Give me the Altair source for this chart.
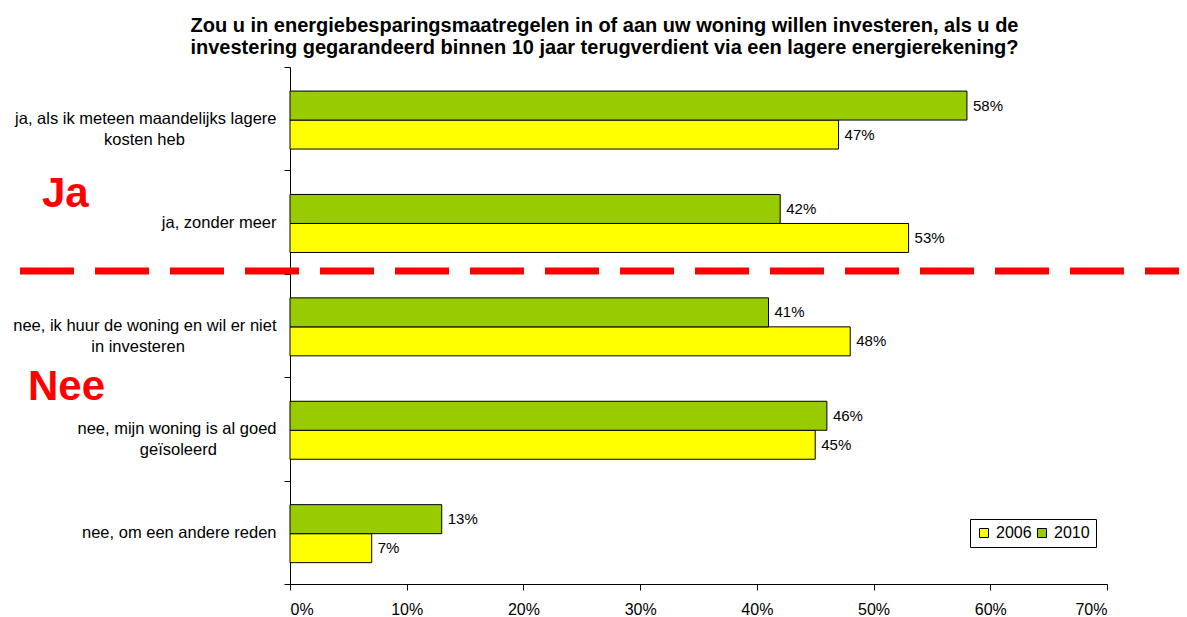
import altair as alt
import pandas as pd

FONT = "Liberation Sans"

categories = [
    "ja, als ik meteen maandelijks lagere kosten heb",
    "ja, zonder meer",
    "nee, ik huur de woning en wil er niet in investeren",
    "nee, mijn woning is al goed geïsoleerd",
    "nee, om een andere reden",
]
# how each category label is broken over lines
category_lines = [
    ["ja, als ik meteen maandelijks lagere", "kosten heb"],
    ["ja, zonder meer"],
    ["nee, ik huur de woning en wil er niet", "in investeren"],
    ["nee, mijn woning is al goed", "geïsoleerd"],
    ["nee, om een andere reden"],
]
years = ["2006", "2010"]
values_2006 = [47, 53, 48, 45, 7]
values_2010 = [58, 42, 41, 46, 13]
x_ticks = [0, 10, 20, 30, 40, 50, 60, 70]
title_lines = [
    "Zou u in energiebesparingsmaatregelen in of aan uw woning willen investeren, als u de",
    "investering gegarandeerd binnen 10 jaar terugverdient via een lagere energierekening?",
]
group_labels = ["Ja", "Nee"]

rows = []
for c, v6, v10 in zip(categories, values_2006, values_2010):
    rows.append({"category": c, "year": "2006", "value": v6})
    rows.append({"category": c, "year": "2010", "value": v10})
df = pd.DataFrame(rows)
df["label"] = df["value"].astype(str) + "%"

# label expression: second lines centred under the first one
# (right-padded with no-break spaces, closed by an invisible word joiner)
pads = [20, 0, 20, 13, 0]
NBSP = "\u00a0"
WJ = "\u2060"
parts = []
for c, lines, p in zip(categories, category_lines, pads):
    if len(lines) == 2:
        arr = "['%s', '%s']" % (lines[0], lines[1] + NBSP * p + WJ)
    else:
        arr = "'%s'" % lines[0]
    parts.append((c, arr))
label_expr = "datum.label"
for c, arr in reversed(parts):
    label_expr = "datum.label == '%s' ? %s : (%s)" % (c, arr, label_expr)

y_axis = alt.Axis(
    title=None,
    tickBand="extent",
    labelExpr=label_expr,
    labelAlign="right",
    labelBaseline="middle",
    labelPadding=8,
    labelLimit=400,
    labelLineHeight=21,
    labelFont=FONT,
    labelFontSize=16.5,
    labelColor="black",
    tickSize=6,
    tickColor="black",
    domainColor="black",
)
y_enc = alt.Y(
    "category:N",
    scale=alt.Scale(domain=categories, paddingInner=0, paddingOuter=0),
    axis=y_axis,
)
yoff_enc = alt.YOffset(
    "year:N",
    sort=["2010", "2006"],
    scale=alt.Scale(paddingInner=0, paddingOuter=0.783, align=0.53),
)
x_enc = alt.X(
    "value:Q",
    scale=alt.Scale(domain=[0, 70], nice=False, zero=True),
    axis=alt.Axis(
        title=None,
        values=x_ticks,
        labelExpr="datum.value + '%'",
        grid=False,
        tickSize=6,
        tickColor="black",
        domainColor="black",
        labelPadding=11,
        labelFont=FONT,
        labelFontSize=16,
        labelColor="black",
    ),
)
color_enc = alt.Color(
    "year:N",
    scale=alt.Scale(domain=years, range=["#FFFF00", "#99CC00"]),
    legend=alt.Legend(
        title=None,
        orient="none",
        legendX=680,
        legendY=452,
        direction="horizontal",
        symbolType="square",
        symbolSize=81,
        symbolStrokeColor="black",
        symbolStrokeWidth=1,
        strokeColor="black",
        fillColor="white",
        padding=6,
        columnPadding=2,
        labelOffset=4,
        labelFont=FONT,
        labelFontSize=16,
        labelColor="black",
    ),
)

base = alt.Chart(df)
bars = base.mark_bar(stroke="black", strokeWidth=1).encode(
    x=x_enc, y=y_enc, yOffset=yoff_enc, color=color_enc
)
texts = base.mark_text(
    align="left", baseline="middle", dx=6, font=FONT, fontSize=15, color="black"
).encode(x=x_enc, y=y_enc, yOffset=yoff_enc, text="label:N")

divider = alt.Chart(pd.DataFrame({"d": [0]})).mark_rule(
    color="#FF0000", strokeWidth=7, strokeDash=[54, 21]
).encode(
    y=alt.value(204),
    x=alt.value(-270),
    x2=alt.value(900),
)

ja = alt.Chart(pd.DataFrame({"t": [group_labels[0]]})).mark_text(
    align="left", baseline="alphabetic", font=FONT, fontSize=42, fontWeight="bold",
    color="#FF0000"
).encode(text="t:N", x=alt.value(-248), y=alt.value(140))
nee = alt.Chart(pd.DataFrame({"t": [group_labels[1]]})).mark_text(
    align="left", baseline="alphabetic", font=FONT, fontSize=42, fontWeight="bold",
    color="#FF0000"
).encode(text="t:N", x=alt.value(-262), y=alt.value(333))

chart = alt.layer(bars, texts, divider, ja, nee).properties(
    width=817,
    height=517,
    background="white",
    autosize=alt.AutoSizeParams(type="none"),
    padding={"left": 282, "top": 59, "right": 72, "bottom": 32},
    title=alt.TitleParams(
        text=title_lines,
        font=FONT,
        fontSize=20,
        fontWeight="bold",
        color="black",
        anchor="middle",
        dx=-94,
        offset=1,
        lineHeight=22,
    ),
).configure_view(strokeWidth=0)

chart.save("out.html", embed_options={"renderer": "svg", "actions": False})
